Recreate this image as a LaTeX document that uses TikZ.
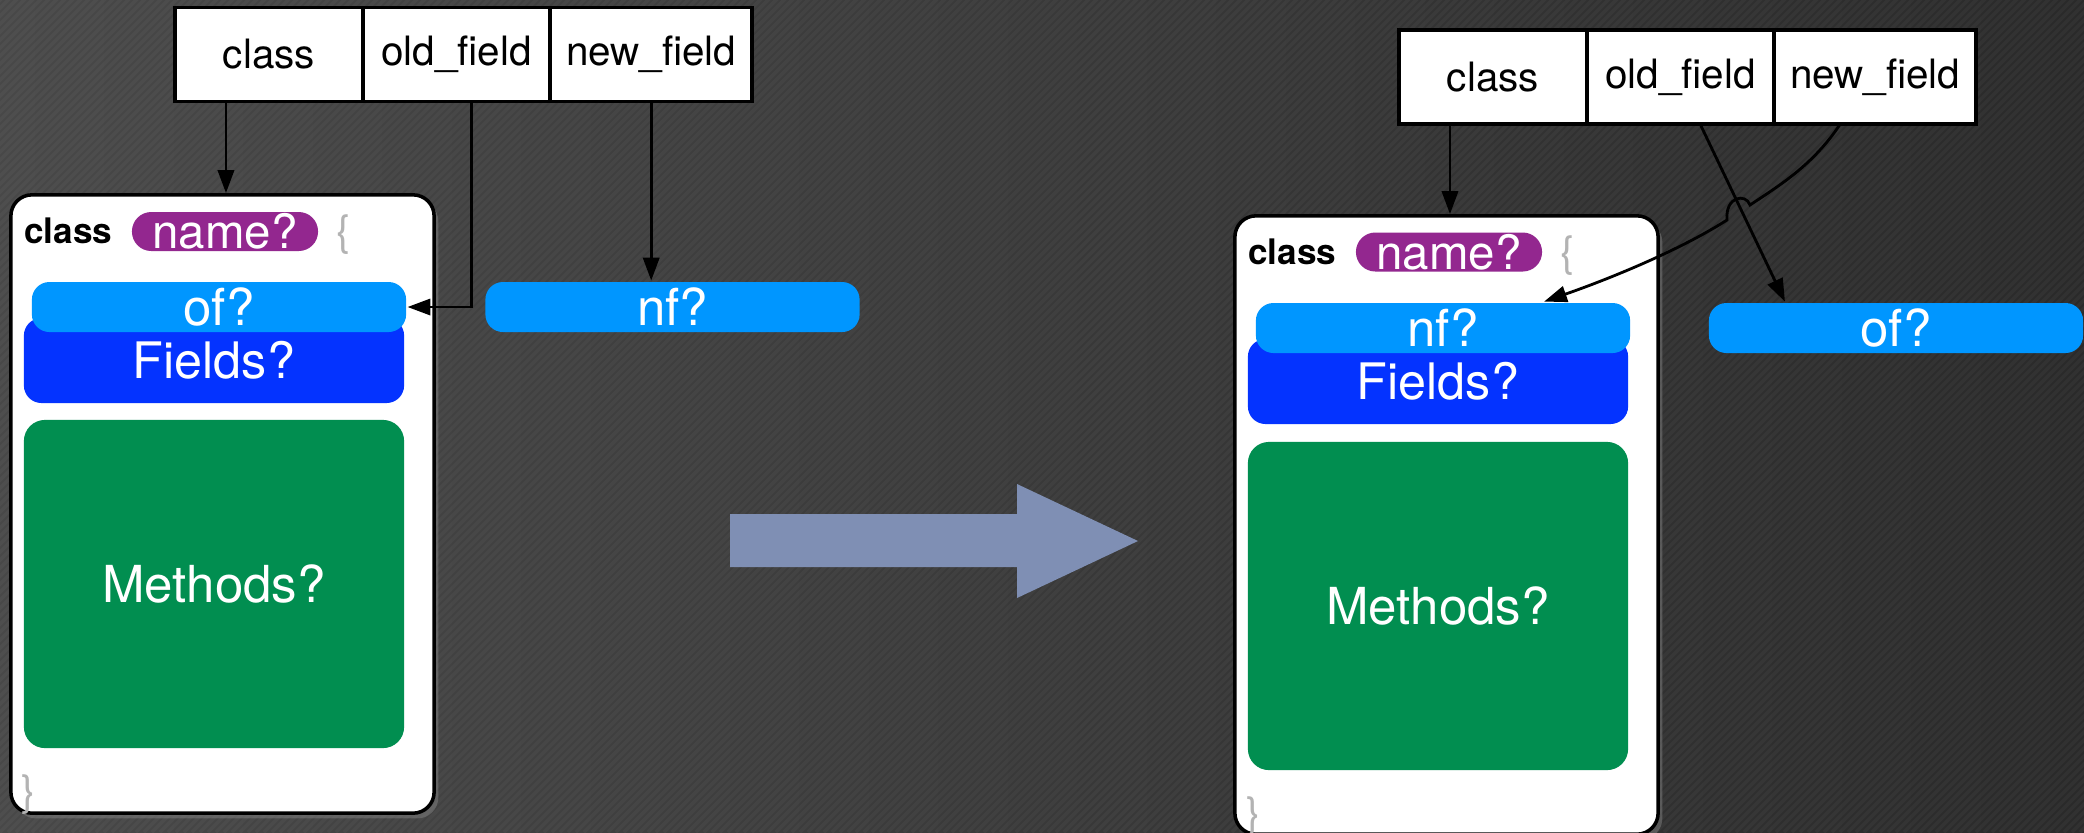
\documentclass[tikz,border=0pt]{standalone}
\usepackage{fontspec}
\setmainfont{TeX Gyre Heros}
\usetikzlibrary{positioning, arrows.meta, shadows}

\definecolor{bgleft}{HTML}{484848}
\definecolor{bgright}{HTML}{2A2A2A}
\definecolor{namepurple}{HTML}{93278F}
\definecolor{fieldsky}{HTML}{0096FF}
\definecolor{fieldsblue}{HTML}{0433FF}
\definecolor{methgreen}{HTML}{018E50}
\definecolor{bigarrow}{HTML}{7F8FB4}
\definecolor{bracegray}{HTML}{B3B3B3}

\begin{document}
\begin{tikzpicture}[x=0.01cm, y=0.01cm, >={Triangle[length=6.5pt,width=4.6pt]}, thick,
    cell/.style={draw, line width=1.1pt, fill=white, outer sep=0pt, inner sep=0pt, minimum height=0.94cm, font=\fontsize{11.5pt}{13pt}\selectfont},
    card/.style={draw, line width=1pt, fill=white, rounded corners=6pt, minimum width=4.23cm, minimum height=6.18cm, drop shadow={opacity=0.5, shadow xshift=1.2pt, shadow yshift=-1.5pt}},
    keyword/.style={anchor=base west, inner sep=0pt, font=\bfseries\fontsize{10pt}{12pt}\selectfont},
    namepill/.style={fill=namepurple, rounded corners=5.5pt, minimum width=1.86cm, minimum height=0.39cm, inner sep=0pt, text=white, font=\fontsize{13.5pt}{15pt}\selectfont},
    pill/.style={fill=fieldsky, rounded corners=5pt, minimum width=3.74cm, minimum height=0.5cm, inner sep=0pt, text=white, font=\fontsize{14.5pt}{16pt}\selectfont},
    fieldsbox/.style={fill=fieldsblue, rounded corners=5pt, minimum width=3.8cm, minimum height=0.85cm, inner sep=0pt, text=white, font=\fontsize{14.3pt}{16pt}\selectfont},
    methbox/.style={fill=methgreen, rounded corners=6pt, minimum width=3.8cm, minimum height=3.28cm, inner sep=0pt, text=white, font=\fontsize{14.5pt}{16pt}\selectfont},
    brace/.style={inner sep=0pt, text=bracegray, font=\fontsize{12pt}{14pt}\selectfont}]

    \useasboundingbox (0,0) rectangle (2084,-832);
    % background
    \fill[left color=bgleft, right color=bgright] (0,0) rectangle (2084,-832);
    \begin{scope}
        \clip (0,0) rectangle (2084,-832);
        \foreach \s in {-840,-832,...,2084}
            \draw[white, opacity=0.035, line width=1pt] (\s,-832) -- ++(840,840);
    \end{scope}

    % before
    \node[cell, minimum width=1.88cm] (lcls) at (269,-54.5) {class};
    \node[cell, minimum width=1.87cm, right=0pt of lcls] (lold) {old\_field};
    \node[cell, minimum width=2.02cm, right=0pt of lold] (lnew) {new\_field};

    \node[card] (lcard) at (222.5,-504) {};
    \node[keyword] (lkw) at (23,-243) {class};
    \node[namepill] (lname) at (225,-231.5) {name?};
    \node[brace] (lopen) at (344,-235) {\{};
    \node[fieldsbox] (lfld) at (214,-360.5) {Fields?};
    \node[pill] (lof) at (219,-307) {of?};
    \node[methbox] (lmeth) at (214,-584) {Methods?};
    \node[brace] (lclose) at (29,-795) {\}};
    \node[pill] (lnf) at (672.5,-307) {nf?};

    \draw[->] ([xshift=-0.43cm]lcls.south) -- ([xshift=-0.43cm]lcls.south |- lcard.north);
    \draw[->] ([xshift=0.145cm]lold.south) |- (lof.east);
    \draw[->] (lnew.south) -- (lnew.south |- lnf.north);

    % big arrow
    \fill[bigarrow] (730,-514) -- (1017,-514) -- (1017,-484) -- (1138,-541)
        -- (1017,-598) -- (1017,-567) -- (730,-567) -- cycle;

    % after
    \node[cell, minimum width=1.88cm] (rcls) at (1493,-77) {class};
    \node[cell, minimum width=1.87cm, right=0pt of rcls] (rold) {old\_field};
    \node[cell, minimum width=2.02cm, right=0pt of rold] (rnew) {new\_field};

    \node[card] (rcard) at (1446.5,-525) {};
    \node[keyword] (rkw) at (1247,-264) {class};
    \node[namepill] (rname) at (1449,-252) {name?};
    \node[brace] (ropen) at (1568,-256) {\{};
    \node[fieldsbox] (rfld) at (1438,-381.5) {Fields?};
    \node[pill] (rnf) at (1443,-328) {nf?};
    \node[methbox] (rmeth) at (1438,-606) {Methods?};
    \node[brace] (rclose) at (1254,-817) {\}};
    \node[pill] (rof) at (1896,-328) {of?};

    \coordinate (jmpa) at (1750,-205);
    \coordinate (jmpb) at (1727,-220);

    \draw[->] ([xshift=-0.43cm]rcls.south) -- ([xshift=-0.43cm]rcls.south |- rcard.north);
    \draw[->] ([xshift=0.195cm]rold.south) -- ([xshift=-1.11cm]rof.north);
    \draw[->] ([xshift=-0.35cm]rnew.south) .. controls +(-27,-41) and +(30,20) .. (jmpa)
        .. controls +(-4,12) and +(-2,24) .. (jmpb)
        .. controls +(-47,-30) and +(66,23) .. ([xshift=1.01cm]rnf.north);
\end{tikzpicture}
\end{document}
